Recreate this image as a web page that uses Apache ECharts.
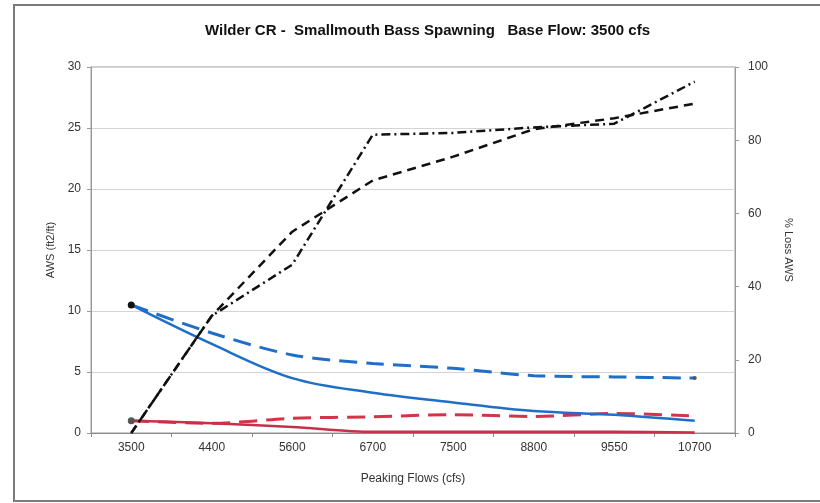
<!DOCTYPE html>
<html>
<head>
<meta charset="utf-8">
<script src="https://cdn.jsdelivr.net/npm/echarts@6/dist/echarts.min.js"></script>
<style>
html,body{margin:0;padding:0;background:#fff;}
#chart{width:820px;height:503px;}
</style>
</head>
<body>
<div id="chart"></div>
<script>
const categories = ['3500','4400','5600','6700','7500','8800','9550','10700'];
const awsSolidBlue = [10.5, 7.3, 4.5, 3.3, 2.5, 1.8, 1.5, 1.0];
const awsDashedBlue = [10.5, 8.2, 6.4, 5.7, 5.3, 4.7, 4.6, 4.5];
const awsSolidRed = [1.0, 0.8, 0.5, 0.1, 0.1, 0.1, 0.1, 0.05];
const awsDashedRed = [1.0, 0.8, 1.2, 1.33, 1.5, 1.35, 1.6, 1.4];
const lossDashed = [0, 32, 55, 69, 75.5, 83, 86, 90];
const lossDashDot = [0, 32, 46, 81.5, 82, 83.5, 84.5, 96];
const leftTicks = {min: 0, max: 30, interval: 5};
const rightTicks = {min: 0, max: 100, interval: 20};

const font = 'Liberation Sans, Arial, sans-serif';
const chart = echarts.init(document.getElementById('chart'), null, {renderer: 'canvas'});

function markPoint(arr, idx, color, size) {
  return arr.map((v, i) => i === idx ? {value: v, symbol: 'circle', symbolSize: size, itemStyle: {color: color}} : v);
}

chart.setOption({
  animation: false,
  backgroundColor: '#fff',
  graphic: [{
    type: 'rect', shape: {x: 14, y: 5, width: 830, height: 496},
    style: {fill: 'none', stroke: '#7a7a7a', lineWidth: 2}, z: -1
  }],
  title: {
    text: 'Wilder CR -  Smallmouth Bass Spawning   Base Flow: 3500 cfs',
    left: 200, top: 18,
    textStyle: {fontFamily: font, fontSize: 15, fontWeight: 'bold', color: '#111'}
  },
  grid: {left: 91, right: 85, top: 67, bottom: 70, show: true, borderColor: '#9a9a9a', borderWidth: 1},
  xAxis: {
    type: 'category', data: categories, boundaryGap: true,
    name: 'Peaking Flows (cfs)', nameLocation: 'middle', nameGap: 40,
    nameTextStyle: {fontFamily: font, fontSize: 12, color: '#333'},
    axisLine: {lineStyle: {color: '#8a8a8a', width: 1}},
    axisTick: {show: true, alignWithLabel: false, length: 4, lineStyle: {color: '#8a8a8a'}},
    axisLabel: {fontFamily: font, fontSize: 12, color: '#333', margin: 9}
  },
  yAxis: [{
    type: 'value', min: leftTicks.min, max: leftTicks.max, interval: leftTicks.interval,
    name: 'AWS (ft2/ft)', nameLocation: 'middle', nameGap: 33, nameRotate: 90,
    nameTextStyle: {fontFamily: font, fontSize: 11, color: '#333'},
    axisLine: {show: true, lineStyle: {color: '#9a9a9a'}},
    axisTick: {show: true, length: 4, lineStyle: {color: '#9a9a9a'}},
    axisLabel: {fontFamily: font, fontSize: 12, color: '#333', margin: 10},
    splitLine: {show: true, lineStyle: {color: '#d4d4d4', width: 1}}
  }, {
    type: 'value', position: 'right', min: rightTicks.min, max: rightTicks.max, interval: rightTicks.interval,
    name: '% Loss AWS', nameLocation: 'middle', nameGap: 48, nameRotate: -90,
    nameTextStyle: {fontFamily: font, fontSize: 11, color: '#333'},
    axisLine: {show: true, lineStyle: {color: '#9a9a9a'}},
    axisTick: {show: true, length: 4, lineStyle: {color: '#9a9a9a'}},
    axisLabel: {fontFamily: font, fontSize: 12, color: '#333', margin: 13},
    splitLine: {show: false}
  }],
  series: [
    {type: 'line', name: 'Blue dashed', yAxisIndex: 0, data: markPoint(awsDashedBlue, 7, '#555', 4), smooth: 0.3, symbol: 'none',
     lineStyle: {color: '#1f6fc8', width: 3, type: [18, 9]}, z: 3},
    {type: 'line', name: 'Blue solid', yAxisIndex: 0, data: markPoint(awsSolidBlue, 0, '#111', 7), smooth: 0.35, symbol: 'none',
     lineStyle: {color: '#1f6fc8', width: 2.5}, z: 4},
    {type: 'line', name: 'Red dashed', yAxisIndex: 0, data: awsDashedRed, smooth: 0.3, showSymbol: false,
     lineStyle: {color: '#d4344a', width: 3, type: [18, 9]}, z: 3},
    {type: 'line', name: 'Red solid', yAxisIndex: 0, data: markPoint(awsSolidRed, 0, '#555', 7), smooth: 0.3, symbol: 'none',
     lineStyle: {color: '#c8304a', width: 2.5}, z: 4},
    {type: 'line', name: 'Loss dashed', yAxisIndex: 1, data: lossDashed, showSymbol: false,
     lineStyle: {color: '#111', width: 2.5, type: [9, 6]}, z: 5},
    {type: 'line', name: 'Loss dash-dot', yAxisIndex: 1, data: lossDashDot, showSymbol: false,
     lineStyle: {color: '#111', width: 2.5, type: [9, 4, 2, 4]}, z: 5}
  ]
});
</script>
</body>
</html>
